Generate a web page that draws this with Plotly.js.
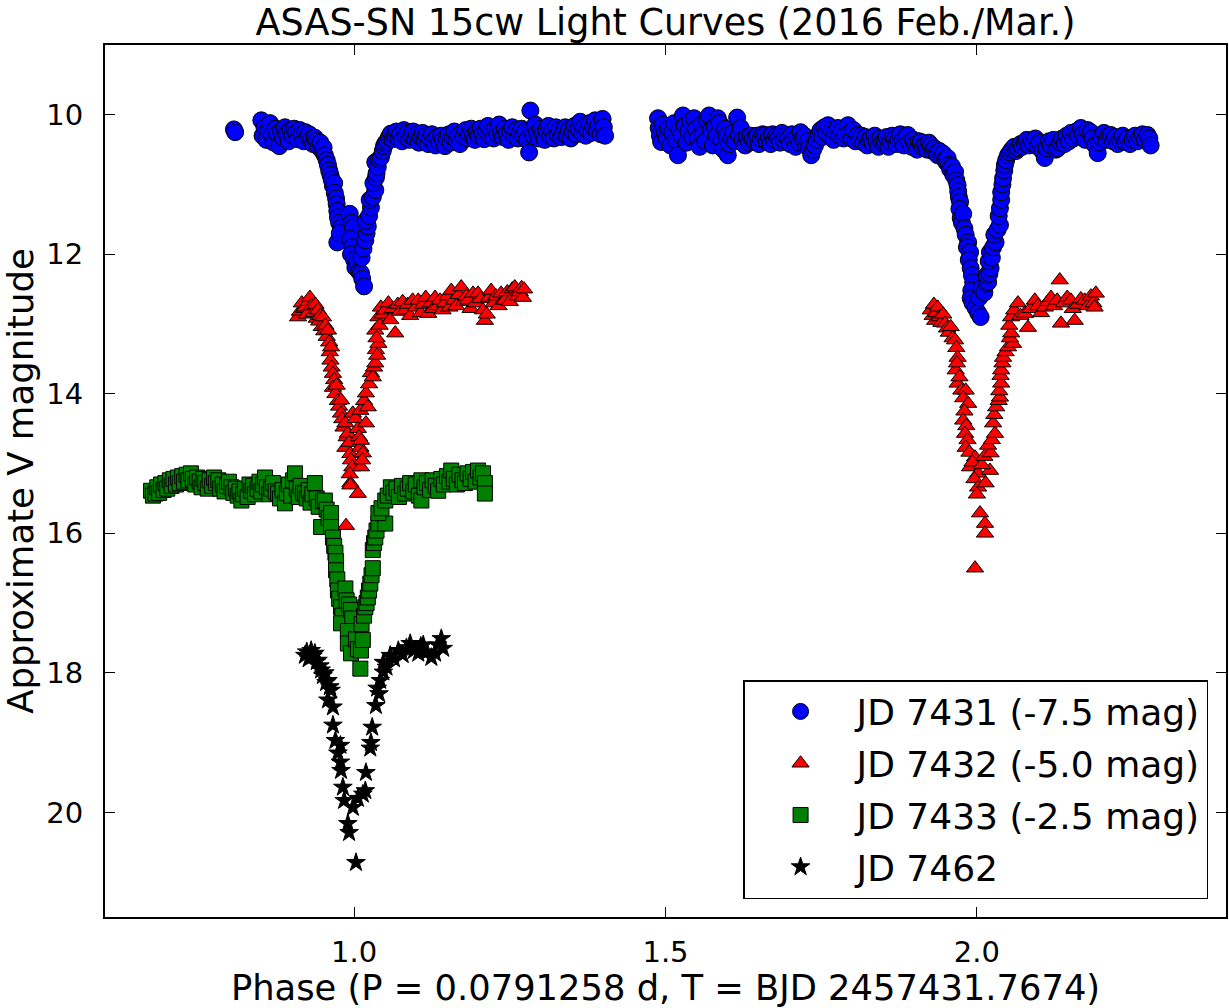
<!DOCTYPE html>
<html>
<head>
<meta charset="utf-8">
<script src="https://cdn.plot.ly/plotly-3.0.1.min.js"></script>
<style>
  html, body { margin: 0; padding: 0; background: #ffffff; }
  #chart { width: 1229px; height: 1008px; }
</style>
</head>
<body>
<div id="chart"></div>
<script>
// ASAS-SN 15cw phased light curves, shifted by the offsets named in the legend.

// JD 7431 (shown at -7.5 mag)
const jd7431Phase = [
  0.807, 0.809, 0.851, 0.853, 0.856, 0.859, 0.862, 0.865, 0.868, 0.871, 0.874, 0.877, 0.880, 0.883, 0.886, 0.889,
  0.892, 0.895, 0.898, 0.901, 0.904, 0.907, 0.910, 0.913, 0.916, 0.919, 0.922, 0.925, 0.928, 0.931, 0.934, 0.937,
  0.940, 0.943, 0.946, 0.949, 0.951, 0.953, 0.956, 0.958, 0.960, 0.962, 0.964, 0.966, 0.968, 0.969, 0.971, 0.972,
  0.973, 0.974, 0.976, 0.979, 0.973, 0.977,
  0.993, 0.996, 0.998, 0.994, 0.997, 0.995, 1.000, 1.002, 1.005, 1.008, 1.011, 1.013, 1.016, 1.012, 1.015, 1.018,
  1.020, 1.022, 1.019, 1.024, 1.027, 1.025, 1.030, 1.034, 1.031, 1.035, 1.036, 1.034, 1.038, 1.040, 1.043, 1.046,
  1.048, 1.050, 1.053, 1.056, 1.059, 1.062, 1.065, 1.068, 1.071, 1.074, 1.077, 1.080, 1.083, 1.086, 1.089, 1.092,
  1.095, 1.098, 1.101, 1.104, 1.107, 1.110, 1.113, 1.116, 1.119, 1.122, 1.125, 1.128, 1.131, 1.134, 1.137, 1.140,
  1.143, 1.146, 1.149, 1.152, 1.155, 1.158, 1.161, 1.164, 1.167, 1.170, 1.173, 1.176, 1.179, 1.182, 1.185, 1.188,
  1.191, 1.194, 1.197, 1.200, 1.203, 1.206, 1.209, 1.212, 1.215, 1.218, 1.221, 1.224, 1.227, 1.230, 1.233, 1.236,
  1.239, 1.242, 1.245, 1.248, 1.251, 1.254, 1.257, 1.260, 1.263, 1.266, 1.269, 1.272, 1.275, 1.278, 1.281, 1.283,
  1.285, 1.288, 1.291, 1.294, 1.297, 1.300, 1.303, 1.306, 1.309, 1.312, 1.315, 1.318, 1.321, 1.324, 1.327, 1.330,
  1.333, 1.336, 1.339, 1.342, 1.345, 1.348, 1.351, 1.354, 1.357, 1.360, 1.363, 1.366, 1.369, 1.372, 1.375, 1.378,
  1.381, 1.384, 1.387, 1.390, 1.393, 1.396, 1.399, 1.401, 1.403,
  1.488, 1.489, 1.491, 1.493, 1.496, 1.499, 1.502, 1.505, 1.508, 1.511, 1.514, 1.517, 1.520, 1.523, 1.526, 1.528,
  1.531, 1.534, 1.537, 1.540, 1.543, 1.546, 1.549, 1.552, 1.555, 1.558, 1.561, 1.564, 1.567, 1.570, 1.573, 1.576,
  1.579, 1.582, 1.584, 1.587, 1.590, 1.593, 1.596, 1.598, 1.600, 1.603, 1.606, 1.609, 1.612, 1.615, 1.618, 1.621,
  1.624, 1.628, 1.631, 1.634, 1.637, 1.640, 1.644, 1.647, 1.650, 1.653, 1.656, 1.660, 1.663, 1.666, 1.669, 1.672,
  1.675, 1.678, 1.681, 1.684, 1.687, 1.690, 1.693, 1.697, 1.700, 1.703, 1.706, 1.709, 1.712, 1.715, 1.717, 1.720,
  1.723, 1.726, 1.729, 1.731, 1.734, 1.737, 1.740, 1.743, 1.746, 1.749, 1.752, 1.755, 1.758, 1.761, 1.764, 1.767,
  1.770, 1.773, 1.777, 1.780, 1.783, 1.786, 1.789, 1.793, 1.796, 1.799, 1.802, 1.805, 1.809, 1.812, 1.815, 1.818,
  1.821, 1.824, 1.827, 1.830, 1.833, 1.836, 1.839, 1.842, 1.845, 1.848, 1.852, 1.855, 1.858, 1.861, 1.864, 1.868,
  1.871, 1.874, 1.877, 1.880, 1.883, 1.886, 1.889, 1.892, 1.895, 1.898, 1.901, 1.904, 1.907, 1.910, 1.913, 1.917,
  1.920, 1.923, 1.926, 1.929, 1.932, 1.935, 1.937, 1.940, 1.943, 1.946, 1.949, 1.951, 1.953, 1.955, 1.957, 1.960,
  1.962, 1.965, 1.967, 1.969, 1.970, 1.971, 1.973, 1.972, 1.974, 1.976, 1.978, 1.980, 1.982, 1.986, 1.984, 1.989,
  1.987, 1.990, 1.992, 1.994, 1.991, 1.990, 1.993, 1.998, 2.002, 2.006, 2.004, 2.008, 2.012, 2.015, 2.018, 2.016,
  2.020, 2.022, 2.019, 2.021, 2.024, 2.026, 2.030, 2.028, 2.033, 2.037, 2.035, 2.037, 2.039, 2.039, 2.041, 2.042,
  2.044, 2.045, 2.047, 2.050, 2.053, 2.056, 2.060, 2.063, 2.066, 2.070, 2.073, 2.077, 2.080, 2.084, 2.087, 2.091,
  2.094, 2.098, 2.101, 2.105, 2.109, 2.112, 2.116, 2.119, 2.123, 2.127, 2.130, 2.134, 2.137, 2.141, 2.144, 2.148,
  2.151, 2.155, 2.159, 2.163, 2.167, 2.170, 2.174, 2.178, 2.183, 2.186, 2.190, 2.194, 2.197, 2.200, 2.204, 2.208,
  2.211, 2.215, 2.219, 2.222, 2.226, 2.230, 2.234, 2.238, 2.242, 2.246, 2.250, 2.254, 2.258, 2.262, 2.266, 2.270,
  2.274, 2.277, 2.279
];
const jd7431Mag = [
  10.21, 10.25, 10.08, 10.30, 10.18, 10.36, 10.22, 10.12, 10.30, 10.40, 10.20, 10.27, 10.45, 10.24, 10.33, 10.18,
  10.28, 10.38, 10.22, 10.30, 10.20, 10.26, 10.35, 10.22, 10.28, 10.38, 10.25, 10.32, 10.28, 10.35, 10.42, 10.33,
  10.38, 10.46, 10.40, 10.52, 10.47, 10.58, 10.65, 10.72, 10.80, 10.86, 10.93, 11.02, 10.98, 11.12, 11.20, 11.28,
  11.38, 11.47, 11.55, 11.62, 11.83, 11.70,
  11.42, 11.55, 11.62, 11.78, 11.90, 12.00, 12.08, 12.19, 12.12, 12.25, 12.27, 12.35, 12.46, 12.05, 11.92, 11.80,
  11.70, 11.60, 11.52, 11.45, 11.33, 11.22, 11.18, 11.08, 10.98, 10.90, 10.84, 10.68, 10.75, 10.64, 10.61, 10.52,
  10.45, 10.41, 10.38, 10.32, 10.27, 10.35, 10.30, 10.24, 10.33, 10.28, 10.38, 10.22, 10.30, 10.26, 10.36, 10.30,
  10.24, 10.34, 10.28, 10.40, 10.32, 10.26, 10.36, 10.30, 10.42, 10.34, 10.28, 10.38, 10.44, 10.32, 10.40, 10.30,
  10.36, 10.45, 10.34, 10.28, 10.40, 10.32, 10.24, 10.36, 10.30, 10.42, 10.26, 10.32, 10.22, 10.34, 10.28, 10.20,
  10.30, 10.36, 10.24, 10.30, 10.20, 10.28, 10.35, 10.22, 10.16, 10.30, 10.24, 10.34, 10.20, 10.28, 10.14, 10.26,
  10.32, 10.20, 10.28, 10.36, 10.24, 10.18, 10.30, 10.22, 10.34, 10.26, 10.20, 10.30, 10.24, 10.36, 10.54, 9.94,
  10.22, 10.30, 10.14, 10.26, 10.34, 10.20, 10.28, 10.36, 10.22, 10.16, 10.30, 10.24, 10.34, 10.18, 10.28, 10.22,
  10.32, 10.26, 10.18, 10.30, 10.22, 10.34, 10.24, 10.16, 10.28, 10.20, 10.10, 10.26, 10.18, 10.30, 10.22, 10.12,
  10.26, 10.18, 10.08, 10.22, 10.14, 10.28, 10.06, 10.18, 10.30,
  10.05, 10.19, 10.30, 10.39, 10.14, 10.26, 10.34, 10.20, 10.44, 10.25, 10.12, 10.36, 10.58, 10.22, 10.30, 10.01,
  10.16, 10.40, 10.24, 10.10, 10.32, 10.05, 10.20, 10.34, 10.46, 10.14, 10.28, 10.38, 10.08, 10.01, 10.22, 10.44,
  10.16, 10.30, 10.05, 10.12, 10.36, 10.50, 10.20, 10.30, 10.58, 10.42, 10.34, 10.26, 10.38, 10.04, 10.30, 10.19,
  10.36, 10.44, 10.32, 10.40, 10.30, 10.36, 10.39, 10.30, 10.42, 10.34, 10.28, 10.29, 10.38, 10.32, 10.42, 10.28,
  10.36, 10.30, 10.34, 10.40, 10.26, 10.36, 10.30, 10.34, 10.42, 10.28, 10.36, 10.46, 10.32, 10.40, 10.25, 10.34,
  10.30, 10.44, 10.38, 10.48, 10.58, 10.50, 10.44, 10.36, 10.28, 10.22, 10.32, 10.18, 10.26, 10.15, 10.30, 10.22,
  10.36, 10.24, 10.19, 10.30, 10.24, 10.34, 10.28, 10.15, 10.26, 10.34, 10.22, 10.38, 10.29, 10.36, 10.30, 10.40,
  10.32, 10.44, 10.36, 10.34, 10.42, 10.30, 10.38, 10.46, 10.34, 10.40, 10.39, 10.32, 10.46, 10.38, 10.30, 10.34,
  10.42, 10.36, 10.28, 10.38, 10.44, 10.32, 10.29, 10.40, 10.46, 10.36, 10.42, 10.50, 10.38, 10.39, 10.46, 10.44,
  10.50, 10.40, 10.44, 10.52, 10.48, 10.55, 10.58, 10.52, 10.60, 10.56, 10.64, 10.68, 10.62, 10.72, 10.78, 10.74,
  10.86, 10.82, 10.94, 11.01, 11.10, 11.18, 11.25, 11.35, 11.48, 11.55, 11.42, 11.63, 11.72, 11.83, 11.90, 11.97,
  12.08, 12.20, 12.30, 12.40, 12.52, 12.63, 12.70, 12.77, 12.84, 12.90, 12.62, 12.48, 12.55, 12.42, 12.40, 12.30,
  12.28, 12.20, 12.10, 11.97, 12.05, 11.90, 11.83, 11.72, 11.65, 11.58, 11.45, 11.34, 11.22, 11.11, 11.00, 10.91,
  10.80, 10.72, 10.65, 10.58, 10.54, 10.50, 10.46, 10.52, 10.48, 10.42, 10.46, 10.40, 10.36, 10.44, 10.37, 10.42,
  10.34, 10.46, 10.40, 10.52, 10.62, 10.48, 10.38, 10.44, 10.36, 10.50, 10.48, 10.40, 10.34, 10.42, 10.30, 10.38,
  10.26, 10.34, 10.24, 10.30, 10.19, 10.28, 10.36, 10.22, 10.25, 10.34, 10.44, 10.55, 10.40, 10.32, 10.26, 10.36,
  10.30, 10.29, 10.38, 10.32, 10.42, 10.36, 10.30, 10.39, 10.34, 10.42, 10.36, 10.30, 10.38, 10.32, 10.28, 10.36,
  10.29, 10.34, 10.44
];

// JD 7432 (shown at -5.0 mag)
const jd7432Phase = [
  0.910, 0.913, 0.916, 0.919, 0.921, 0.924, 0.927, 0.929, 0.932, 0.935, 0.938, 0.940, 0.942, 0.944, 0.946, 0.948,
  0.950, 0.952, 0.954, 0.956, 0.958, 0.960, 0.961, 0.963, 0.962, 0.964, 0.966, 0.968, 0.966, 0.970, 0.972, 0.974,
  0.976, 0.979, 0.979, 0.981, 0.983, 0.986, 0.988, 0.990, 0.986, 0.992, 0.994, 0.995, 0.997, 0.993, 0.994, 0.994,
  1.006, 0.987,
  0.998, 1.002, 1.006, 1.008, 1.010, 1.011, 1.014, 1.011, 1.013, 1.010, 1.016, 1.019, 1.022, 1.019, 1.024, 1.027,
  1.030, 1.032, 1.034, 1.035, 1.037, 1.039, 1.034, 1.036, 1.039, 1.041, 1.043, 1.046, 1.050, 1.055, 1.058, 1.062,
  1.066, 1.070, 1.074, 1.078, 1.082, 1.086, 1.090, 1.094, 1.099, 1.103, 1.107, 1.111, 1.115, 1.119, 1.123, 1.127,
  1.130, 1.134, 1.138, 1.142, 1.146, 1.150, 1.153, 1.156, 1.160, 1.164, 1.168, 1.172, 1.176, 1.180, 1.183, 1.187,
  1.191, 1.195, 1.199, 1.203, 1.207, 1.210, 1.213, 1.217, 1.220, 1.224, 1.228, 1.232, 1.236, 1.240, 1.242, 1.246,
  1.250, 1.254, 1.258, 1.262, 1.266, 1.269, 1.271, 1.273,
  1.926, 1.929, 1.931, 1.933, 1.935, 1.937, 1.940, 1.943, 1.946, 1.949, 1.952, 1.955, 1.958, 1.961, 1.965, 1.967,
  1.969, 1.966, 1.968, 1.969, 1.972, 1.975, 1.982, 1.978, 1.986, 1.980, 1.978, 1.983, 1.981, 1.985, 1.982, 1.988,
  1.997, 1.989, 1.993, 2.002, 1.996, 2.002, 2.000, 2.005, 2.013, 2.013, 1.997, 2.014, 2.021, 2.008, 2.012, 2.022,
  2.018, 2.024, 2.029, 2.026, 2.028, 2.031, 2.035, 2.037, 2.036, 2.039, 2.038, 2.039, 2.041, 2.042, 2.046, 2.050,
  2.058, 2.053, 2.055, 2.052, 2.055, 2.060, 2.066, 2.070, 2.077, 2.082, 2.086, 2.093, 2.098, 2.103, 2.109, 2.114,
  2.119, 2.124, 2.129, 2.133, 2.135, 2.140, 2.145, 2.151, 2.154, 2.157, 2.162, 2.167, 2.173, 2.178, 2.183, 2.187,
  2.189, 2.191
];
const jd7432Mag = [
  12.90, 12.82, 12.70, 12.78, 12.76, 12.86, 12.68, 12.62, 12.74, 12.84, 12.72, 12.92, 12.80, 12.96, 12.88, 13.04,
  12.90, 13.10, 13.02, 13.18, 13.09, 13.26, 13.40, 13.33, 13.52, 13.62, 13.71, 13.80, 13.91, 14.00, 13.88, 14.10,
  14.18, 14.09, 14.28, 14.36, 14.48, 14.42, 14.62, 14.57, 14.77, 14.70, 14.86, 14.95, 15.05, 15.15, 15.28, 15.31,
  15.43, 15.89,
  14.28, 14.36, 14.50, 14.62, 14.77, 14.67, 14.85, 15.05, 14.95, 14.24, 14.10, 14.42, 14.19, 13.99, 13.86, 13.70,
  13.76, 13.62, 13.56, 13.37, 13.45, 13.28, 13.09, 13.20, 12.90, 13.02, 12.76, 12.86, 12.80, 12.70, 12.94, 12.78,
  13.13, 12.72, 12.82, 12.68, 12.80, 12.72, 12.88, 12.66, 12.76, 12.66, 12.84, 12.72, 12.62, 12.85, 12.70, 12.78,
  12.62, 12.74, 12.66, 12.80, 12.70, 12.60, 12.76, 12.52, 12.66, 12.74, 12.58, 12.47, 12.68, 12.60, 12.66, 12.78,
  12.56, 12.70, 12.56, 12.64, 12.80, 12.95, 12.86, 12.62, 12.52, 12.70, 12.60, 12.74, 12.56, 12.66, 12.66, 12.54,
  12.68, 12.50, 12.47, 12.60, 12.54, 12.48, 12.62, 12.50,
  12.80, 12.88, 12.72, 12.95, 12.84, 12.76, 12.90, 12.98, 12.86, 12.99, 13.06, 13.12, 13.04, 13.20, 13.23, 13.34,
  13.48, 13.66, 13.56, 13.85, 13.76, 13.95, 13.95, 14.06, 14.14, 14.25, 14.38, 14.46, 14.57, 14.66, 14.77, 14.84,
  14.91, 15.05, 14.98, 15.14, 15.22, 15.34, 15.44, 15.71, 15.86, 16.00, 16.50, 15.28, 15.10, 15.02, 14.90, 14.85,
  14.74, 14.66, 14.57, 14.42, 14.30, 14.19, 14.10, 14.05, 13.96, 13.85, 13.74, 13.66, 13.56, 13.48, 13.40, 13.33,
  13.28, 13.20, 13.13, 13.02, 12.90, 12.80, 12.70, 12.88, 12.85, 13.05, 12.78, 12.66, 12.74, 12.84, 12.76, 12.68,
  12.62, 12.74, 12.66, 12.37, 12.99, 12.70, 12.62, 12.66, 12.78, 12.95, 12.72, 12.64, 12.66, 12.74, 12.60, 12.70,
  12.76, 12.56
];

// JD 7433 (shown at -2.5 mag)
const jd7433Phase = [
  0.674, 0.677, 0.681, 0.684, 0.687, 0.690, 0.694, 0.697, 0.700, 0.704, 0.707, 0.710, 0.714, 0.717, 0.720, 0.724,
  0.727, 0.731, 0.734, 0.738, 0.741, 0.745, 0.748, 0.752, 0.755, 0.758, 0.761, 0.765, 0.768, 0.772, 0.775, 0.778,
  0.782, 0.785, 0.789, 0.792, 0.796, 0.799, 0.803, 0.806, 0.810, 0.813, 0.816, 0.819, 0.822, 0.825, 0.829, 0.832,
  0.835, 0.838, 0.841, 0.845, 0.848, 0.851, 0.854, 0.857, 0.860, 0.864, 0.867, 0.870, 0.874, 0.878, 0.881, 0.885,
  0.889, 0.892, 0.895, 0.899, 0.902, 0.905, 0.908, 0.911, 0.914, 0.918, 0.921, 0.924, 0.927, 0.930, 0.933, 0.937,
  0.940, 0.943, 0.947, 0.950, 0.953, 0.956, 0.959, 0.963, 0.963, 0.966, 0.968, 0.970, 0.971, 0.971, 0.973, 0.974,
  0.976, 0.979, 0.981, 0.979, 0.986, 0.988, 0.992, 0.995, 0.997, 0.990, 0.990, 0.995, 1.003, 1.006, 1.010, 1.011,
  1.014, 1.012, 1.016, 1.018, 1.020, 1.022, 1.024, 1.026, 1.028, 1.030, 1.030, 1.032, 1.034, 1.036, 1.039, 1.050,
  1.039, 1.044, 1.050, 1.054, 1.059, 1.063, 1.068, 1.072, 1.077, 1.082, 1.086, 1.090, 1.095, 1.099, 1.104, 1.108,
  1.108, 1.113, 1.117, 1.122, 1.126, 1.131, 1.135, 1.140, 1.144, 1.149, 1.153, 1.156, 1.160, 1.165, 1.169, 1.174,
  1.178, 1.182, 1.187, 1.191, 1.195, 1.199, 1.203, 1.207, 1.210, 1.210
];
const jd7433Mag = [
  15.39, 15.46, 15.43, 15.34, 15.42, 15.30, 15.38, 15.28, 15.36, 15.24, 15.32, 15.22, 15.30, 15.20, 15.28, 15.18,
  15.26, 15.16, 15.24, 15.14, 15.22, 15.30, 15.20, 15.26, 15.34, 15.22, 15.28, 15.36, 15.24, 15.32, 15.20, 15.28,
  15.24, 15.36, 15.30, 15.40, 15.32, 15.26, 15.34, 15.42, 15.36, 15.46, 15.40, 15.53, 15.44, 15.36, 15.48, 15.30,
  15.39, 15.32, 15.44, 15.36, 15.26, 15.40, 15.30, 15.20, 15.34, 15.44, 15.36, 15.28, 15.40, 15.43, 15.50, 15.38,
  15.57, 15.42, 15.30, 15.46, 15.24, 15.14, 15.36, 15.48, 15.32, 15.42, 15.43, 15.50, 15.38, 15.56, 15.44, 15.28,
  15.50, 15.62, 15.91, 15.54, 15.53, 15.66, 15.78, 15.71, 15.91, 16.06, 16.18, 16.28, 16.40, 16.53, 16.66, 16.82,
  16.94, 17.06, 17.18, 17.29, 16.79, 16.96, 17.02, 17.10, 17.22, 17.40, 17.58, 17.72, 17.52, 17.66, 17.94, 17.68,
  17.53, 17.30, 17.18, 17.06, 17.00, 16.92, 16.82, 16.72, 16.60, 16.50, 16.24, 16.14, 16.06, 15.96, 15.86, 15.86,
  15.71, 15.64, 15.53, 15.46, 15.34, 15.42, 15.36, 15.48, 15.32, 15.43, 15.36, 15.28, 15.40, 15.30, 15.46, 15.53,
  15.24, 15.34, 15.28, 15.38, 15.24, 15.32, 15.39, 15.22, 15.30, 15.18, 15.26, 15.10, 15.22, 15.30, 15.16, 15.24,
  15.28, 15.14, 15.22, 15.12, 15.26, 15.10, 15.20, 15.14, 15.28, 15.43
];

// JD 7462 (no offset)
const jd7462Phase = [
  0.921, 0.924, 0.927, 0.931, 0.934, 0.937, 0.940, 0.942, 0.945, 0.947, 0.950, 0.953, 0.955, 0.958, 0.961, 0.963,
  0.958, 0.966, 0.966, 0.970, 0.974, 0.978, 0.978, 0.979, 0.982, 0.984, 0.990, 0.992, 1.003, 0.998, 1.006, 1.018,
  1.014, 1.019, 1.026, 1.027, 1.029, 1.035, 1.037, 1.040, 1.042, 1.047, 1.047, 1.052, 1.058, 1.064, 1.071, 1.078,
  1.084, 1.090, 1.096, 1.103, 1.107, 1.111, 1.117, 1.124, 1.130, 1.134, 1.140, 1.143
];
const jd7462Mag = [
  17.75, 17.70, 17.80, 17.68, 17.76, 17.72, 17.84, 17.82, 17.90, 17.96, 18.04, 18.00, 18.14, 18.11, 18.20, 18.25,
  18.39, 18.49, 18.75, 18.97, 19.15, 19.04, 19.28, 19.40, 19.64, 19.83, 20.16, 20.29, 20.72, 19.93, 19.80, 19.69,
  19.74, 19.43, 19.08, 19.00, 18.78, 18.47, 18.22, 18.30, 18.11, 17.99, 17.85, 17.92, 17.75, 17.80, 17.68, 17.74,
  17.64, 17.58, 17.68, 17.72, 17.62, 17.60, 17.70, 17.78, 17.72, 17.60, 17.51, 17.65
];

const seriesNames = ['JD 7431 (-7.5 mag)', 'JD 7432 (-5.0 mag)', 'JD 7433 (-2.5 mag)', 'JD 7462'];
const xTickVals = [1.0, 1.5, 2.0];
const yTickVals = [10, 12, 14, 16, 18, 20];

const FONT = 'DejaVu Sans, Liberation Sans, sans-serif';

function series(x, y, name, symbol, color, size, group) {
  return {
    type: 'scatter', mode: 'markers', x: x, y: y, name: name, legendgroup: group,
    marker: { symbol: symbol, color: color, size: size, line: { color: '#000000', width: 1 } },
    hoverinfo: 'x+y'
  };
}

const traces = [
  series(jd7431Phase, jd7431Mag, seriesNames[0], 'circle', '#0000ff', 17, 'a'),
  series(jd7432Phase, jd7432Mag, seriesNames[1], 'triangle-up', '#ff0000', 15, 'b'),
  series(jd7433Phase, jd7433Mag, seriesNames[2], 'square', '#008000', 15, 'c'),
  series(jd7462Phase, jd7462Mag, seriesNames[3], 'star', '#000000', 14, 'd')
];

const axisCommon = {
  showgrid: false, zeroline: false,
  showline: true, linecolor: '#000000', linewidth: 2, mirror: 'ticks',
  ticks: 'inside', ticklen: 10, tickwidth: 1, tickcolor: '#000000',
  tickfont: { family: FONT, size: 29, color: '#000000' }
};

const layout = {
  width: 1229, height: 1008,
  paper_bgcolor: '#ffffff', plot_bgcolor: '#ffffff',
  margin: { l: 105, r: 3, t: 45, b: 91 },
  font: { family: FONT, color: '#000000' },
  title: {
    text: 'ASAS-SN 15cw Light Curves (2016 Feb./Mar.)',
    font: { family: FONT, size: 36.5, color: '#000000' },
    x: 0.5, xref: 'paper', y: 0.978, yref: 'container', yanchor: 'middle'
  },
  xaxis: Object.assign({}, axisCommon, {
    range: [0.6, 2.4], tickmode: 'array', tickvals: xTickVals,
    ticktext: xTickVals.map(v => v.toFixed(1)), ticklabelstandoff: 8,
    title: { text: 'Phase (P = 0.0791258 d, T = BJD 2457431.7674)', font: { family: FONT, size: 35.3, color: '#000000' }, standoff: 6 }
  }),
  yaxis: Object.assign({}, axisCommon, {
    range: [21.5, 9], tickmode: 'array', tickvals: yTickVals,
    ticktext: yTickVals.map(v => String(v)), ticklabelstandoff: 14,
    title: { text: 'Approximate V magnitude', font: { family: FONT, size: 35.5, color: '#000000' }, standoff: 7 }
  }),
  showlegend: true,
  legend: {
    x: 0.984, xanchor: 'right', y: 0.0206, yanchor: 'bottom',
    bgcolor: '#ffffff', bordercolor: '#000000', borderwidth: 1.5,
    font: { family: FONT, size: 36, color: '#000000' },
    itemwidth: 102, tracegroupgap: 2
  }
};

Plotly.newPlot('chart', traces, layout, { displayModeBar: false, staticPlot: true });
</script>
</body>
</html>
